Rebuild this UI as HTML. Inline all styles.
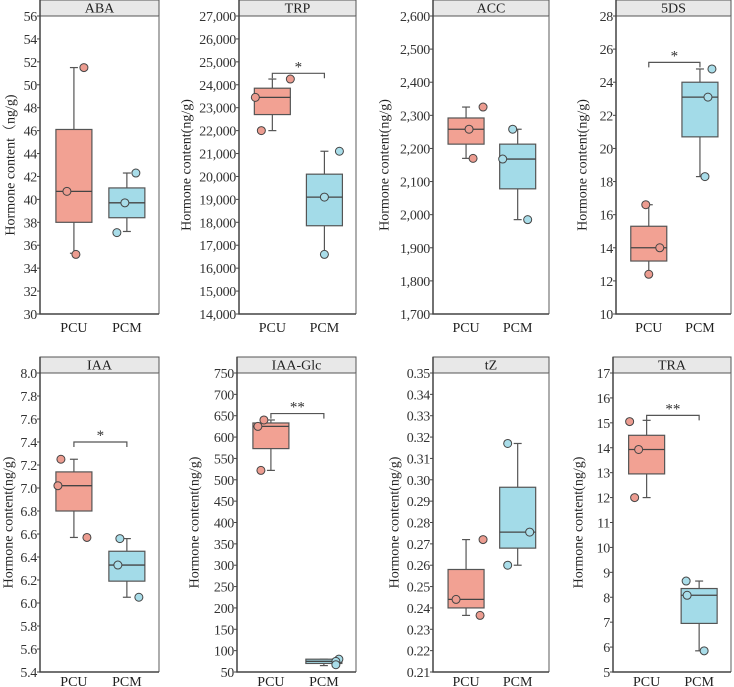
<!DOCTYPE html>
<html><head><meta charset="utf-8"><style>
body{margin:0;background:#fff}
svg{display:block;font-family:"Liberation Serif","Noto Serif CJK SC",serif}
</style></head><body>
<svg id="c" width="734" height="687" viewBox="0 0 734 687" xmlns="http://www.w3.org/2000/svg"></svg>
<script>
const titles=["ABA","TRP","ACC","5DS","IAA","IAA-Glc","tZ","TRA"];
const groups=["PCU","PCM"];
const yMins=[30,14000,1700,10,5.4,50,0.21,5];
const yMaxs=[56,27000,2600,28,8.0,750,0.35,17];
const ySteps=[2,1000,100,2,0.2,50,0.01,1];
const yDecimals=[0,0,0,0,1,0,2,0];
// [min,q1,median,q3,max] per panel
const pcuStats=[[35.3,38,40.7,46.1,51.5],[22000,22700,23450,23850,24250],[2170,2213,2258,2292,2325],[12.4,13.2,14,15.3,16.6],[6.57,6.8,7.02,7.14,7.25],[522,573,625,633,640],[0.2365,0.240,0.244,0.258,0.272],[12,12.95,13.93,14.5,15.1]];
const pcmStats=[[37.2,38.4,39.7,41,42.3],[16600,17850,19100,20100,21100],[1985,2078,2168,2213,2258],[18.3,20.7,23.1,24,24.8],[6.05,6.19,6.33,6.45,6.56],[65,70,75,80,80],[0.26,0.268,0.2755,0.2965,0.317],[5.85,6.95,8.08,8.35,8.65]];
const pcuPoints=[[51.5,40.7,35.2],[24250,23450,22000],[2325,2258,2170],[16.6,14,12.4],[7.25,7.02,6.57],[640,625,522],[0.272,0.244,0.2365],[15.05,13.93,12]];
const pcmPoints=[[42.3,39.7,37.1],[21100,19100,16600],[2258,2168,1985],[24.8,23.1,18.3],[6.56,6.33,6.05],[80,75,67],[0.317,0.2755,0.26],[8.65,8.08,5.85]];
const pcuJitter=[[10,-7,2],[18,-17,-11],[17,3,7],[-3,11,0],[-13,-16,13],[-7,-13,-10],[17,-10,14],[-17,-8,-12]];
const pcmJitter=[[9,-2,-10],[15,0,0],[-5,-15,10],[12,8,5],[-7,-9,12],[15,12,12],[-10,12,-10],[-13,-12,5]];
const sigLabels=["","*","","*","*","**","","**"];
const sigValues=[null,24500,null,25.2,7.4,655,null,15.3];
const yLabels=["Hormone content（ng/g)","Hormone content(ng/g)","Hormone content(ng/g)","Hormone content(ng/g)","Hormone content(ng/g)","Hormone content(ng/g)","Hormone content(ng/g)","Hormone content(ng/g)"];

const lefts=[40,239,433,616,40,237,433,613];
const rights=[159,356,549,731,159,356,549,731];
const labelXs=[11,187,385,583,9,195,395,579];
const tops=[16,16,16,16,373,373,373,373];
const bottoms=[314,314,314,314,672,672,672,672];
const xLabelOffsets=[18,18,18,18,14,14,14,14];
const NS="http://www.w3.org/2000/svg";
const svg=document.getElementById('c');
function mk(tag,attrs,parent){const e=document.createElementNS(NS,tag);for(const k in attrs)e.setAttribute(k,attrs[k]);(parent||svg).appendChild(e);return e;}
const fills=["#f2a193","#a3dbe8"],pfills=["#ec9c90","#a9dde9"];
for(let p=0;p<8;p++){
  const g=mk('g',{});
  
  
  const L=lefts[p],R=rights[p],T=tops[p],B=bottoms[p];
  const y=v=>B-(v-yMins[p])/(yMaxs[p]-yMins[p])*(B-T);
  const xs=[L+(R-L)*0.285,L+(R-L)*0.73];
  const hdr=mk('rect',{x:L,y:T-16,width:R-L,height:16,fill:"#e8e8e8",stroke:"#555","stroke-width":1},g);
  
  
  const ht=mk('text',{x:(L+R)/2,y:T-3.5,"text-anchor":"middle","font-size":14,fill:"#222"},g);ht.textContent=titles[p];
  
  
  mk('line',{x1:R,y1:T,x2:R,y2:B,stroke:"#777","stroke-width":1.2},g);
  const ax=mk('path',{d:`M${L},${T-16}V${B}H${R}`,fill:"none",stroke:"#444","stroke-width":1.5},g);
  
  
  const n=Math.round((yMaxs[p]-yMins[p])/ySteps[p]);
  for(let i=0;i<=n;i++){
    const v=yMins[p]+i*ySteps[p],yy=y(v);
    mk('line',{x1:L-3,y1:yy,x2:L,y2:yy,stroke:"#444"},g);
    const t=mk('text',{x:L-3,y:yy+5,"text-anchor":"end","font-size":14,fill:"#333","letter-spacing":-0.3},g);
    t.textContent=v.toLocaleString('en-US',{minimumFractionDigits:yDecimals[p],maximumFractionDigits:yDecimals[p]});
    
    
  }
  const cy=(T+B)/2;
  const yl=mk('text',{x:labelXs[p],y:cy,transform:`rotate(-90 ${labelXs[p]} ${cy})`,"text-anchor":"middle","dominant-baseline":"central","font-size":14,fill:"#222"},g);
  yl.textContent=yLabels[p];
  
  
  [pcuStats[p],pcmStats[p]].forEach((s,gi)=>{
    const x=xs[gi],hw=18;
    const bg=mk('g',{},g);
    
    
    mk('line',{x1:x,y1:y(s[0]),x2:x,y2:y(s[4]),stroke:"#555","stroke-width":1.2},bg);
    mk('line',{x1:x-4,y1:y(s[0]),x2:x+4,y2:y(s[0]),stroke:"#555","stroke-width":1.2},bg);
    mk('line',{x1:x-4,y1:y(s[4]),x2:x+4,y2:y(s[4]),stroke:"#555","stroke-width":1.2},bg);
    mk('rect',{x:x-hw,y:y(s[3]),width:2*hw,height:Math.max(1,y(s[1])-y(s[3])),fill:fills[gi],stroke:"#555","stroke-width":1.2},bg);
    mk('line',{x1:x-hw,y1:y(s[2]),x2:x+hw,y2:y(s[2]),stroke:"#444","stroke-width":1.3},bg);
    const pts=gi?pcmPoints[p]:pcuPoints[p],jit=gi?pcmJitter[p]:pcuJitter[p];
    pts.forEach((v,k)=>{
      const c=mk('circle',{cx:x+jit[k],cy:y(v),r:4,fill:pfills[gi],stroke:"#444","stroke-width":1},bg);
      
      
    });
    const xt=mk('text',{x:x,y:B+xLabelOffsets[p],"text-anchor":"middle","font-size":14,fill:"#222"},g);
    xt.textContent=groups[gi];
    
    
  });
  if(sigValues[p]!==null){
    const sy=y(sigValues[p]);
    const br=mk('path',{d:`M${xs[0]},${sy+5}V${sy}H${xs[1]}V${sy+5}`,fill:"none",stroke:"#555","stroke-width":1.2},g);
    
    
    const st=mk('text',{x:(xs[0]+xs[1])/2,y:sy-2,"text-anchor":"middle","font-size":15,fill:"#333"},g);
    st.textContent=sigLabels[p];
    
    
  }
}
</script>
</body></html>
